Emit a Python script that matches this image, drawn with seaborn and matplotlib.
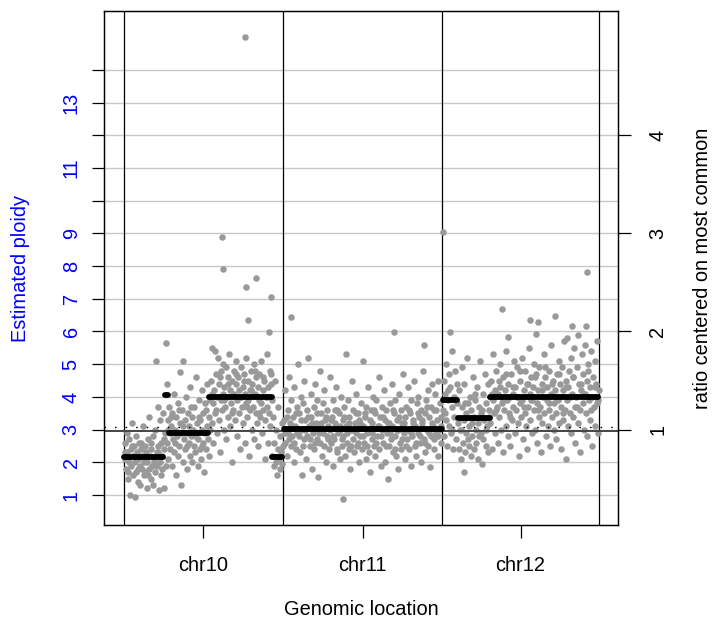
import matplotlib
matplotlib.use("Agg")
import matplotlib.pyplot as plt
import numpy as np
import pandas as pd
import seaborn as sns

# ---------------- data ----------------
chrom_names = ["chr10", "chr11", "chr12"]
chrom_lengths = [135.5, 135.0, 133.3]  # Mb

# (position within chromosome in Mb, estimated ploidy)
chr10_points = [
    (0.8, 2.6), (1.5, 2.1), (2.0, 1.8), (2.4, 2.9), (3.1, 2.3), (3.6, 1.5), (4.2, 2.0), (4.8, 2.7), (5.3, 1.0),
    (5.9, 2.4), (6.4, 1.9), (7.0, 3.2), (7.5, 2.2), (8.1, 1.6), (8.6, 2.5), (9.2, 0.95), (9.7, 2.0), (10.3, 1.7),
    (10.8, 2.8), (11.4, 2.3), (11.9, 1.4), (12.5, 2.1), (13.0, 2.6), (13.6, 1.9), (14.1, 1.3), (14.7, 2.4),
    (15.2, 1.8), (15.8, 2.2), (16.3, 3.1), (16.9, 1.6), (17.4, 2.0), (18.0, 2.5), (18.5, 1.7), (19.1, 2.3),
    (19.6, 1.2), (20.2, 2.0), (20.7, 2.7), (21.3, 1.8), (21.8, 3.4), (22.4, 2.2), (22.9, 1.5), (23.5, 2.4),
    (24.0, 1.9), (24.6, 2.8), (25.1, 1.3), (25.7, 2.1), (26.2, 3.0), (26.8, 1.7), (27.3, 5.1), (27.9, 2.3),
    (28.4, 1.9), (29.0, 3.7), (29.5, 2.5), (30.1, 1.15), (30.6, 2.0), (31.2, 3.3), (31.7, 2.6), (32.3, 1.8),
    (32.8, 2.2), (33.4, 3.5), (33.9, 1.2), (34.5, 2.4), (35.0, 2.9), (35.6, 1.9), (35.9, 5.65),
    (1.2, 2.3), (3.9, 1.7), (6.7, 2.5), (9.4, 2.2), (12.2, 1.8), (14.9, 2.6), (17.7, 2.1), (20.4, 1.6),
    (23.2, 2.6), (25.9, 2.0), (28.7, 2.3), (31.4, 1.6), (34.2, 2.7),
    (36.5, 4.4), (37.0, 2.6), (37.5, 3.3), (38.0, 2.1), (38.6, 3.7), (39.1, 2.9), (39.7, 2.4), (40.2, 3.1),
    (40.8, 1.9), (41.3, 3.5), (41.9, 2.7), (42.4, 4.1), (43.0, 2.3), (43.5, 3.0), (44.1, 1.6), (44.6, 3.4),
    (45.2, 2.8), (45.7, 2.2), (46.3, 3.8), (46.8, 2.5), (47.4, 4.75), (47.9, 3.2), (48.5, 1.3), (49.0, 2.9),
    (49.6, 3.6), (50.1, 2.0), (50.7, 5.1), (51.2, 2.7), (51.8, 3.3), (52.3, 2.4), (52.9, 4.0), (53.4, 2.9),
    (54.0, 1.8), (54.5, 3.5), (55.1, 2.6), (55.6, 3.1), (56.2, 2.2), (56.7, 4.3), (57.3, 2.8), (57.8, 3.4),
    (58.4, 2.0), (58.9, 3.0), (59.5, 2.5), (60.0, 3.7), (60.6, 2.3), (61.1, 4.6), (61.7, 2.9), (62.2, 3.2),
    (62.8, 1.9), (63.3, 2.7), (63.9, 3.9), (64.4, 2.4), (65.0, 3.3), (65.5, 2.1), (66.1, 3.0), (66.6, 4.2),
    (67.2, 2.6), (67.7, 3.5), (68.3, 1.7), (68.8, 2.9), (69.4, 3.8), (69.9, 2.4), (70.5, 3.1), (71.0, 4.4),
    (71.6, 2.7), (72.1, 3.4), (72.7, 2.2), (73.2, 3.9),
    (37.2, 3.0), (40.5, 3.4), (43.8, 2.6), (47.1, 3.6), (50.4, 3.1), (53.7, 2.5), (57.0, 3.7), (60.3, 2.8),
    (63.6, 3.4), (66.9, 2.5), (70.2, 3.6), (73.5, 3.0),
    (74.0, 4.5), (74.6, 3.2), (75.1, 5.5), (75.7, 3.8), (76.2, 2.6), (76.8, 4.2), (77.3, 5.4), (77.9, 3.5),
    (78.4, 4.7), (79.0, 2.9), (79.5, 4.0), (80.1, 5.2), (80.6, 3.3), (81.2, 4.4), (81.7, 2.3), (82.3, 3.9),
    (82.8, 4.8), (83.4, 3.6), (83.8, 8.9), (84.0, 4.1), (84.4, 7.9), (84.5, 5.0), (85.1, 3.0), (85.6, 4.3),
    (86.2, 3.7), (86.7, 4.9), (87.3, 2.7), (87.8, 4.0), (88.4, 3.4), (88.9, 4.6), (89.5, 5.3), (90.0, 3.1),
    (90.6, 4.2), (91.1, 3.8), (91.7, 4.5), (92.2, 2.0), (92.8, 3.6), (93.3, 4.8), (93.9, 4.1), (94.4, 3.3),
    (95.0, 4.4), (95.5, 5.1), (96.1, 2.8), (96.6, 3.9), (97.2, 4.6), (97.7, 3.5), (98.3, 4.2), (98.8, 2.4),
    (99.4, 4.0), (99.9, 4.9), (100.5, 3.7), (101.0, 4.3), (101.6, 3.2), (102.1, 4.7), (102.7, 2.6), (103.2, 4.1),
    (103.4, 15.0), (103.7, 7.35), (103.8, 3.8), (104.3, 5.2), (104.9, 3.4), (105.4, 4.5), (105.9, 6.35),
    (106.0, 3.9), (106.5, 2.2), (107.1, 4.2), (107.6, 3.6), (108.2, 4.8), (108.7, 3.0), (109.3, 4.4),
    (109.8, 3.7), (110.4, 5.0), (110.9, 2.7), (111.5, 4.1), (112.0, 3.5), (112.5, 7.65), (112.6, 4.6),
    (113.1, 3.2), (113.7, 4.3), (114.2, 2.5), (114.8, 3.9), (115.3, 4.7), (115.9, 3.4), (116.4, 5.1),
    (117.0, 3.8), (117.5, 2.9), (118.1, 4.2), (118.6, 3.6), (119.2, 4.5), (119.7, 2.1), (120.3, 3.3),
    (120.8, 4.0), (121.4, 5.3), (121.9, 3.7), (122.5, 2.6), (123.0, 4.3), (123.2, 5.98), (123.6, 3.5),
    (124.1, 4.8), (124.7, 3.1), (125.2, 4.4), (125.3, 7.05), (125.8, 3.9),
    (75.4, 4.1), (78.7, 3.6), (82.0, 4.6), (85.3, 3.9), (88.6, 4.4), (91.9, 3.5), (95.2, 4.7), (98.5, 4.0),
    (101.8, 4.5), (105.1, 3.7), (108.4, 4.2), (111.7, 4.8), (115.0, 3.5), (118.3, 4.6), (121.6, 4.0), (124.9, 4.7),
    (126.4, 2.2), (126.9, 3.4), (127.5, 1.9), (128.0, 2.6), (128.6, 4.5), (129.1, 2.0), (129.7, 3.0),
    (130.2, 1.6), (130.8, 2.4), (131.3, 3.7), (131.9, 2.1), (132.4, 1.8), (133.0, 2.8), (133.5, 2.3),
    (134.1, 1.95), (134.6, 3.2), (135.2, 2.5),
]

chr11_points = [
    (0.5, 3.3), (1.1, 2.6), (1.8, 4.2), (2.4, 3.0), (3.0, 2.2), (3.7, 3.6), (4.3, 2.9), (5.0, 4.6), (5.6, 3.2),
    (6.3, 2.5), (6.8, 6.45), (6.9, 3.9), (7.6, 2.8), (8.2, 3.4), (8.9, 2.0), (9.5, 4.3), (10.2, 3.1), (10.8, 2.4),
    (11.5, 3.7), (12.1, 2.9), (12.8, 5.0), (13.4, 3.5), (14.1, 2.3), (14.7, 4.0), (15.4, 3.0), (16.0, 1.6),
    (16.7, 3.8), (17.3, 2.7), (18.0, 4.5), (18.6, 3.3), (19.3, 2.1), (19.9, 3.6), (20.6, 2.8), (21.2, 5.2),
    (21.9, 3.1), (22.5, 2.5), (23.2, 4.1), (23.8, 3.4), (24.5, 1.8), (25.1, 2.9), (25.8, 3.7), (26.4, 2.4),
    (27.1, 4.4), (27.7, 3.2), (28.4, 2.7), (29.0, 3.9), (29.7, 1.55), (30.3, 3.0), (31.0, 4.8), (31.6, 2.6),
    (32.3, 3.5), (32.9, 2.2), (33.6, 3.8), (34.2, 2.9), (34.9, 4.2), (35.5, 3.3), (36.2, 2.0), (36.8, 3.6),
    (37.5, 2.8), (38.1, 3.1), (38.8, 2.4), (39.4, 4.6), (40.1, 3.0), (40.7, 2.6), (41.4, 3.4), (42.0, 1.9),
    (42.7, 3.9), (43.3, 2.7), (44.0, 3.2), (44.6, 4.3), (45.3, 2.3), (45.9, 3.6), (46.6, 2.9), (47.2, 3.5),
    (47.9, 2.1), (48.5, 3.0), (49.2, 4.0), (49.8, 2.5), (50.5, 3.3), (50.6, 0.87), (51.1, 2.8), (51.8, 3.7),
    (52.4, 2.2), (53.1, 5.3), (53.7, 3.1), (54.4, 2.6), (55.0, 3.9), (55.7, 2.4), (56.3, 3.4), (57.0, 1.8),
    (57.6, 3.0), (58.3, 4.5), (58.9, 2.7), (59.6, 3.6), (60.2, 2.3), (60.9, 3.2), (61.5, 2.9), (62.2, 4.1),
    (62.8, 2.5), (63.5, 3.5), (64.1, 2.0), (64.8, 3.3), (65.4, 2.8), (66.1, 3.8), (66.7, 2.4), (67.4, 3.1),
    (68.0, 5.1), (68.7, 2.6), (69.3, 3.4), (70.0, 2.1), (70.6, 3.7), (71.3, 2.9), (71.9, 4.3), (72.6, 2.3),
    (73.2, 3.0), (73.9, 1.7), (74.5, 3.6), (75.2, 2.7), (75.8, 3.2), (76.5, 4.0), (77.1, 2.5), (77.8, 3.5),
    (78.4, 2.2), (79.1, 3.9), (79.7, 2.8), (80.4, 3.1), (81.0, 4.6), (81.7, 2.4), (82.3, 3.4), (83.0, 1.9),
    (83.6, 3.0), (84.3, 3.7), (84.9, 2.6), (85.6, 4.2), (86.2, 3.3), (86.9, 2.0), (87.5, 3.6), (88.2, 2.9),
    (88.8, 1.5), (89.5, 3.2), (90.1, 2.5), (90.8, 3.8), (91.4, 2.7), (92.1, 4.4), (92.7, 3.1), (93.4, 2.3),
    (94.0, 3.5), (94.5, 5.98), (94.7, 2.8), (95.3, 3.9), (96.0, 2.2), (96.6, 3.3), (97.3, 1.8), (97.9, 3.0),
    (98.6, 4.1), (99.2, 2.6), (99.9, 3.6), (100.5, 2.4), (101.2, 3.2), (101.8, 4.7), (102.5, 2.9), (103.1, 3.4),
    (103.8, 2.1), (104.4, 3.7), (105.1, 2.7), (105.7, 4.3), (106.4, 3.0), (107.0, 2.4), (107.7, 3.5),
    (108.3, 1.9), (109.0, 3.9), (109.6, 2.8), (110.3, 3.3), (110.9, 4.5), (111.6, 2.5), (112.2, 3.1),
    (112.9, 2.2), (113.5, 3.8), (114.2, 2.9), (114.8, 4.0), (115.5, 3.4), (116.1, 2.6), (116.8, 3.6),
    (117.4, 2.0), (118.1, 3.2), (118.7, 4.8), (119.4, 2.7), (120.0, 5.6), (120.1, 3.5), (120.7, 2.3),
    (121.3, 3.9), (122.0, 3.0), (122.6, 4.2), (123.3, 2.5), (123.9, 3.4), (124.6, 1.85), (125.2, 3.7),
    (125.9, 2.8), (126.5, 4.4), (127.2, 3.1), (127.8, 2.4), (128.5, 3.6), (129.1, 4.1), (129.8, 2.9),
    (130.4, 3.3), (131.1, 2.2), (131.7, 4.5), (132.4, 3.0), (133.0, 3.8), (133.7, 2.6), (134.3, 3.4),
    (1.4, 2.9), (3.4, 3.4), (5.3, 2.7), (7.2, 3.1), (9.1, 2.6), (11.0, 3.5), (13.0, 2.8), (14.9, 3.3),
    (16.8, 2.5), (18.8, 3.0), (20.7, 3.4), (22.7, 2.7), (24.6, 3.2), (26.6, 2.6), (28.5, 3.5), (30.5, 2.9),
    (32.4, 3.2), (34.4, 2.5), (36.3, 3.4), (38.3, 2.7), (40.2, 3.3), (42.2, 2.8), (44.1, 3.6), (46.1, 2.4),
    (48.0, 3.1), (50.0, 2.7), (51.9, 3.4), (53.9, 2.9), (55.8, 3.2), (57.8, 2.5), (59.7, 3.0), (61.7, 3.5),
    (63.6, 2.6), (65.6, 3.2), (67.5, 2.8), (69.5, 3.5), (71.4, 2.5), (73.4, 3.3), (75.3, 2.9), (77.3, 3.6),
    (79.2, 2.6), (81.2, 3.1), (83.1, 2.8), (85.1, 3.4), (87.0, 2.5), (89.0, 3.2), (90.9, 2.9), (92.9, 3.6),
    (94.8, 2.4), (96.8, 3.0), (98.7, 3.4), (100.7, 2.7), (102.6, 3.2), (104.6, 2.5), (106.5, 3.6), (108.5, 2.9),
    (110.4, 3.2), (112.4, 2.6), (114.3, 3.5), (116.3, 2.8), (118.2, 3.3), (120.2, 2.6), (122.1, 3.7),
    (124.1, 2.9), (126.0, 3.2), (128.0, 2.7), (129.9, 3.6), (131.9, 2.8), (133.8, 3.1),
]

chr12_points = [
    (0.5, 9.05), (0.7, 3.6), (1.3, 4.5), (1.9, 2.8), (2.5, 4.1), (3.1, 3.3), (3.7, 5.0), (4.3, 2.5), (4.9, 3.9),
    (5.5, 4.7), (6.1, 3.1), (6.8, 5.98), (6.9, 4.3), (7.5, 2.9), (8.1, 3.7), (8.7, 5.4), (9.3, 2.4), (9.9, 4.0),
    (10.5, 3.4), (11.1, 4.8), (11.7, 2.7), (12.3, 3.8), (12.9, 4.4), (13.5, 3.2),
    (14.1, 2.4), (14.7, 4.2), (15.3, 3.0), (15.9, 2.1), (16.5, 3.7), (17.1, 4.9), (17.7, 2.6), (18.3, 3.3),
    (18.4, 1.7), (18.9, 4.4), (19.5, 2.3), (20.1, 3.5), (20.7, 2.9), (21.3, 5.2), (21.9, 3.8), (22.5, 2.5),
    (23.1, 3.1), (23.7, 4.0), (24.3, 2.2), (24.9, 3.6), (25.5, 2.8), (26.1, 4.6), (26.7, 3.4), (27.3, 2.4),
    (27.9, 3.9), (28.5, 3.0), (29.1, 2.6), (29.7, 4.3), (30.3, 3.2), (30.9, 2.1), (31.5, 3.7), (32.1, 5.1),
    (32.7, 2.9), (33.3, 3.5), (33.8, 1.95), (34.5, 4.1), (35.1, 2.7), (35.7, 3.3), (36.3, 4.7), (36.9, 2.5),
    (37.5, 3.8), (38.1, 3.1), (38.7, 4.4), (39.3, 2.3), (39.9, 3.6), (40.5, 4.0),
    (2.2, 3.5), (5.2, 4.2), (8.4, 3.0), (11.4, 3.9), (16.2, 3.0), (19.2, 3.8), (22.2, 2.7), (25.2, 3.2),
    (28.2, 4.1), (31.2, 2.8), (34.2, 3.6), (37.2, 3.0), (40.0, 3.4),
    (41.1, 3.2), (41.7, 4.5), (42.3, 2.4), (42.9, 3.9), (43.5, 5.3), (44.1, 3.5), (44.7, 4.2), (45.3, 2.9),
    (45.9, 4.8), (46.5, 3.7), (47.1, 4.1), (47.7, 2.6), (48.3, 3.4), (48.9, 5.0), (49.5, 4.3), (50.1, 3.0),
    (50.8, 6.68), (50.9, 3.8), (51.5, 4.6), (52.1, 2.3), (52.7, 3.6), (53.3, 4.2), (53.9, 3.1), (54.5, 5.4),
    (55.1, 3.9), (55.6, 5.82), (55.7, 2.8), (56.3, 4.4), (56.9, 3.5), (57.5, 4.0), (58.1, 2.5), (58.7, 4.7),
    (59.3, 3.3), (59.9, 4.1), (60.5, 3.7), (61.1, 5.1), (61.7, 2.9), (62.3, 4.3), (62.9, 3.6), (63.5, 4.9),
    (64.1, 3.2), (64.7, 4.0), (65.3, 2.2), (65.9, 3.8), (66.5, 4.5), (67.1, 3.4), (67.7, 5.2), (68.3, 3.9),
    (68.9, 2.7), (69.5, 4.2), (70.1, 3.5), (70.7, 4.8), (71.3, 3.1), (71.9, 4.4), (72.5, 2.4), (73.1, 3.7),
    (73.7, 5.5), (74.3, 6.35), (74.4, 4.1), (74.9, 3.3), (75.5, 4.6), (76.1, 2.9), (76.7, 3.9), (77.3, 4.3),
    (77.9, 3.6), (78.5, 5.0), (79.1, 3.0), (79.7, 4.7), (80.0, 5.93), (80.3, 3.8), (80.9, 2.6), (81.5, 6.29),
    (81.6, 4.2), (82.1, 3.4), (82.7, 4.9), (83.3, 3.7), (83.9, 2.3), (84.5, 4.4), (85.1, 3.2), (85.7, 4.0),
    (86.3, 5.3), (86.9, 3.5), (87.5, 4.6), (88.1, 2.8), (88.7, 3.9), (89.3, 4.3), (89.9, 3.1), (90.5, 4.8),
    (91.1, 3.6), (91.7, 2.5), (92.3, 4.1), (92.9, 5.6), (93.5, 3.4), (94.1, 4.5), (94.7, 3.0), (95.3, 3.8),
    (96.0, 6.46), (95.9, 4.2), (96.5, 2.7), (97.1, 3.5), (97.7, 4.7), (98.3, 3.9), (98.9, 5.1), (99.5, 3.2),
    (100.1, 4.4), (100.7, 2.4), (101.3, 3.7), (101.9, 4.9), (102.5, 3.3), (103.1, 4.2), (103.7, 5.7),
    (104.3, 3.6), (104.9, 4.5), (105.5, 2.1), (106.1, 3.9), (106.5, 5.8), (106.7, 4.3), (107.3, 3.1),
    (107.9, 4.8), (108.5, 3.5), (109.1, 5.2), (109.7, 2.9), (110.0, 6.18), (110.3, 4.1), (110.9, 3.4),
    (111.5, 4.6), (112.1, 5.5), (112.7, 3.7), (113.3, 2.6), (113.9, 4.0), (114.5, 4.9), (115.1, 3.2),
    (115.7, 5.9), (116.3, 4.4), (116.9, 3.6), (117.5, 2.3), (118.1, 4.2), (118.7, 5.3), (119.3, 3.8),
    (119.9, 4.7), (120.5, 3.0), (121.1, 5.6), (121.7, 4.1), (122.0, 6.18), (122.3, 3.5), (122.9, 4.5),
    (123.2, 7.82), (123.5, 2.8), (124.1, 5.0), (124.7, 3.9), (125.3, 4.3), (125.9, 3.3), (126.5, 5.4),
    (127.1, 4.0), (127.7, 2.5), (128.3, 4.6), (128.9, 3.7), (129.5, 5.1), (130.1, 3.1), (130.7, 4.4),
    (131.3, 3.8), (131.9, 5.7), (132.5, 2.9), (133.0, 4.2),
    (42.6, 4.1), (45.6, 3.6), (48.6, 4.5), (51.6, 3.9), (54.6, 4.7), (57.6, 3.4), (60.6, 4.3), (63.6, 4.0),
    (66.6, 4.8), (69.6, 3.7), (72.6, 4.4), (75.6, 3.9), (78.6, 4.6), (81.6, 3.6), (84.6, 4.2), (87.6, 4.9),
    (90.6, 3.8), (93.6, 4.4), (96.6, 4.0), (99.6, 4.7), (102.6, 3.5), (105.6, 4.3), (108.6, 4.0), (111.6, 4.6),
    (114.6, 3.7), (117.6, 4.4), (120.6, 4.1), (123.6, 4.8), (126.6, 3.6), (129.6, 4.3), (132.3, 3.9),
]

# segmented ploidy calls: chromosome, start (Mb), end (Mb), ploidy
seg_chrom = ["chr10", "chr10", "chr10", "chr10", "chr10", "chr11", "chr12", "chr12", "chr12"]
seg_start = [0.3, 35.3, 38.3, 72.5, 126.1, 0.5, 0.6, 13.9, 41.1]
seg_end = [33.5, 37.2, 71.5, 125.6, 134.7, 134.5, 12.8, 40.3, 132.6]
seg_value = [2.16, 4.06, 2.91, 4.00, 2.17, 3.02, 3.90, 3.36, 3.99]

mode_ploidy = 2.97      # solid reference line
dotted_ploidy = 3.08    # dotted reference line
ratio_base = 3.0        # ploidy corresponding to ratio 1

ploidy_ticks = list(range(1, 15))
ploidy_labels = ["1", "2", "3", "4", "5", "6", "7", "8", "9", "", "11", "", "13", ""]
ratio_ticks = [1, 2, 3, 4]

# ---------------- build tables ----------------
offsets = dict(zip(chrom_names, np.concatenate([[0], np.cumsum(chrom_lengths)[:-1]])))
rows = []
for name, pts in zip(chrom_names, [chr10_points, chr11_points, chr12_points]):
    for pos, val in pts:
        rows.append({"chrom": name, "pos": pos + offsets[name], "ploidy": val})
df = pd.DataFrame(rows)

segs = pd.DataFrame({"chrom": seg_chrom, "start": seg_start, "end": seg_end, "ploidy": seg_value})
segs["gstart"] = segs["start"] + segs["chrom"].map(offsets)
segs["gend"] = segs["end"] + segs["chrom"].map(offsets)

boundaries = list(np.concatenate([[0], np.cumsum(chrom_lengths)]))
centers = [offsets[n] + l / 2 for n, l in zip(chrom_names, chrom_lengths)]

# ---------------- plot ----------------
sns.set_style("ticks")
plt.rcParams["font.family"] = ["Liberation Sans", "DejaVu Sans"]

W, H = 717, 620
fig = plt.figure(figsize=(W / 100, H / 100), dpi=100)
ax = fig.add_axes([104.3 / W, (H - 525) / H, 514 / W, 514 / H])

ylo, yhi = 0.083, 15.80
xlo, xhi = -16.5, 420.2

ax.set_yticks(ploidy_ticks)
ax.set_yticklabels(ploidy_labels)
ax.grid(axis="y", color="#c8c8c8", lw=1.0, zorder=0)
ax.set_axisbelow(True)

for b in boundaries:
    ax.axvline(b, color="black", lw=0.9, zorder=1)

sns.scatterplot(data=df, x="pos", y="ploidy", color="#999999", s=22, linewidth=0,
                ax=ax, zorder=2, legend=False)

ax.axhline(mode_ploidy, color="#454545", lw=1.4, zorder=3)
ax.axhline(dotted_ploidy, color="black", lw=1.0, linestyle=(0, (1.1, 6.5)), zorder=3)

lc = ax.hlines(segs["ploidy"], segs["gstart"], segs["gend"], color="black", lw=4.2, zorder=4)
lc.set_capstyle("round")

ax.set_xlim(xlo, xhi)
ax.set_ylim(ylo, yhi)
ax.set_xticks(centers)
ax.set_xticklabels(chrom_names)

ax.tick_params(axis="x", direction="out", length=9, width=0.9, pad=13, labelsize=14.4, colors="black")
ax.tick_params(axis="y", direction="out", length=9, width=0.9, pad=8, labelsize=14.4,
               labelcolor="blue", color="black", labelrotation=90)
for lab in ax.get_yticklabels():
    lab.set_va("center")

for sp in ax.spines.values():
    sp.set_color("black")
    sp.set_linewidth(0.9)
    sp.set_visible(True)

ax.set_xlabel("Genomic location", fontsize=14.4, color="black")
ax.xaxis.set_label_coords(0.5, -0.1465)
ax.set_ylabel("Estimated ploidy", fontsize=14.4, color="blue")
ax.yaxis.set_label_coords(-0.1446, 0.5)

ax2 = ax.twinx()
ax2.set_ylim(ylo / ratio_base, yhi / ratio_base)
ax2.set_yticks(ratio_ticks)
ax2.set_yticklabels([str(t) for t in ratio_ticks])
ax2.tick_params(axis="y", direction="out", length=9, width=0.9, pad=12.5, labelsize=14.4,
                colors="black", labelrotation=90)
for lab in ax2.get_yticklabels():
    lab.set_va("center")
for sp in ax2.spines.values():
    sp.set_color("black")
    sp.set_linewidth(0.9)
    sp.set_visible(True)
ax2.set_ylabel("ratio centered on most common", fontsize=14.4, color="black")
ax2.yaxis.set_label_coords(1.1444, 0.5)

fig.savefig("out.png", dpi=100)
